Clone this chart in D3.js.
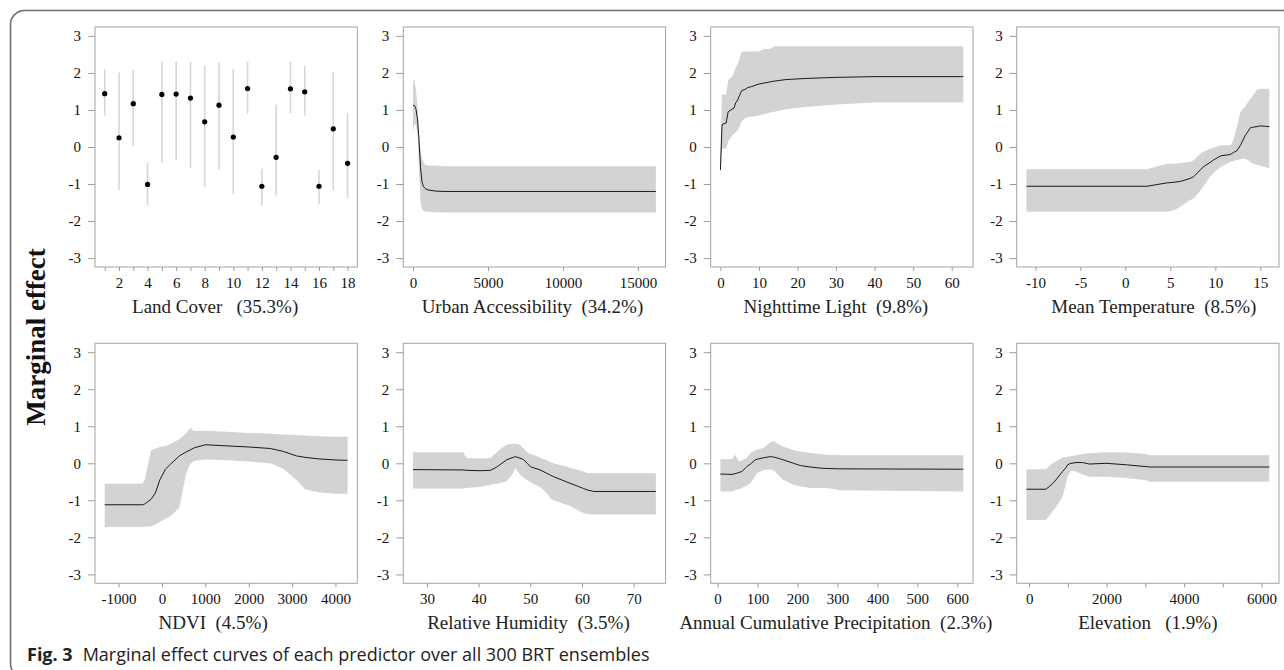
<!DOCTYPE html>
<html>
<head>
<meta charset="utf-8">
<script src="https://cdn.jsdelivr.net/npm/d3@7"></script>
<style>
  body { margin: 0; background: #fff; }
  text { white-space: pre; }
</style>
</head>
<body>
<div id="chart"></div>
<script>
// ---- data ----
var yTicks = [-3, -2, -1, 0, 1, 2, 3];

// Land Cover (categorical, mean + range)
var landCoverClass = [1, 2, 3, 4, 5, 6, 7, 8, 9, 10, 11, 12, 13, 14, 15, 16, 17, 18];
var landCoverMean = [1.44, 0.25, 1.17, -1.01, 1.42, 1.43, 1.32, 0.68, 1.13, 0.27, 1.58, -1.06, -0.28, 1.57, 1.49, -1.06, 0.49, -0.44];
var landCoverLow  = [0.85, -1.16, 0.01, -1.57, -0.44, -0.35, -0.56, -1.08, -0.61, -1.28, 0.9, -1.59, -1.31, 0.9, 0.85, -1.53, -1.17, -1.38];
var landCoverHigh = [2.1, 2.01, 2.08, -0.42, 2.31, 2.31, 2.29, 2.19, 2.28, 2.1, 2.31, -0.59, 1.14, 2.31, 2.19, -0.62, 2.03, 0.91];

// Urban Accessibility
var urbanX    = [0, 100, 200, 300, 400, 500, 600, 700, 800, 1000, 1500, 2000, 16200];
var urbanFit  = [1.13, 1.12, 1.02, 0.75, 0.2, -0.55, -0.95, -1.07, -1.12, -1.16, -1.19, -1.2, -1.2];
var urbanLow  = [0.4, 0.62, 0.6, 0.3, -0.6, -1.45, -1.68, -1.72, -1.74, -1.75, -1.76, -1.77, -1.77];
var urbanHigh = [1.82, 1.75, 1.55, 1.1, 0.3, -0.1, -0.3, -0.42, -0.48, -0.5, -0.5, -0.52, -0.52];

// Nighttime Light
var lightX    = [0, 0.4, 0.6, 1.5, 2, 3, 3.5, 4, 4.5, 5, 5.5, 6.5, 7, 8, 10, 11, 13, 14, 17, 22, 30, 40, 63];
var lightFit  = [-0.62, 0.55, 0.62, 0.65, 0.95, 1.02, 1.05, 1.2, 1.27, 1.4, 1.52, 1.56, 1.6, 1.63, 1.7, 1.72, 1.76, 1.78, 1.82, 1.85, 1.88, 1.9, 1.9];
var lightLow  = [-0.87, -0.05, -0.05, -0.05, 0.15, 0.3, 0.35, 0.4, 0.45, 0.55, 0.7, 0.78, 0.8, 0.82, 0.85, 0.88, 0.93, 0.95, 1.02, 1.08, 1.15, 1.2, 1.2];
var lightHigh = [-0.3, 1.42, 1.42, 1.42, 1.8, 1.9, 2.0, 2.15, 2.25, 2.4, 2.57, 2.58, 2.58, 2.58, 2.58, 2.63, 2.65, 2.72, 2.72, 2.72, 2.72, 2.72, 2.72];

// Mean Temperature
var tempX    = [-11, 2.4, 4.6, 5.5, 6.1, 7.2, 7.6, 8.4, 8.7, 9.4, 9.8, 10.6, 11.7, 12.0, 12.4, 12.8, 13.3, 13.9, 14.1, 14.6, 15, 16];
var tempFit  = [-1.06, -1.06, -0.97, -0.95, -0.93, -0.85, -0.8, -0.6, -0.53, -0.42, -0.35, -0.24, -0.2, -0.15, -0.1, 0.05, 0.3, 0.52, 0.53, 0.55, 0.57, 0.55];
var tempLow  = [-1.75, -1.75, -1.75, -1.7, -1.61, -1.43, -1.4, -1.16, -1.05, -0.8, -0.7, -0.53, -0.4, -0.38, -0.35, -0.33, -0.31, -0.4, -0.44, -0.48, -0.5, -0.58];
var tempHigh = [-0.6, -0.6, -0.45, -0.45, -0.43, -0.4, -0.36, -0.17, -0.12, -0.05, -0.02, 0.05, 0.05, 0.19, 0.55, 0.95, 1.09, 1.3, 1.36, 1.54, 1.57, 1.57];

// NDVI
var ndviX    = [-1320, -450, -400, -250, -150, -50, 80, 200, 400, 550, 650, 750, 1000, 1500, 2000, 2500, 2800, 3100, 3300, 3600, 4000, 4280];
var ndviFit  = [-1.12, -1.12, -1.1, -0.97, -0.8, -0.45, -0.16, -0.02, 0.2, 0.3, 0.36, 0.42, 0.5, 0.47, 0.44, 0.4, 0.32, 0.2, 0.16, 0.12, 0.09, 0.08];
var ndviLow  = [-1.72, -1.72, -1.71, -1.7, -1.65, -1.58, -1.5, -1.42, -1.2, -0.3, -0.02, 0.07, 0.1, 0.08, 0.05, 0.0, -0.15, -0.45, -0.7, -0.78, -0.82, -0.82];
var ndviHigh = [-0.55, -0.55, -0.45, 0.35, 0.4, 0.44, 0.47, 0.52, 0.65, 0.8, 0.95, 0.87, 0.88, 0.85, 0.82, 0.8, 0.78, 0.76, 0.75, 0.73, 0.72, 0.72];

// Relative Humidity
var rhX    = [27.3, 37, 37.7, 40.3, 42.3, 43.5, 44.5, 45.5, 46.5, 47.1, 48, 48.7, 49.4, 50, 50.6, 51.9, 53.2, 53.9, 54.5, 57.7, 60.3, 61, 62.3, 74.3];
var rhFit  = [-0.17, -0.18, -0.19, -0.2, -0.19, -0.1, 0.0, 0.1, 0.15, 0.18, 0.14, 0.1, 0.0, -0.09, -0.12, -0.18, -0.27, -0.32, -0.36, -0.54, -0.68, -0.72, -0.76, -0.76];
var rhLow  = [-0.68, -0.68, -0.67, -0.63, -0.58, -0.55, -0.52, -0.48, -0.3, -0.13, -0.3, -0.4, -0.45, -0.5, -0.55, -0.65, -0.8, -0.95, -1.0, -1.15, -1.35, -1.37, -1.38, -1.38];
var rhHigh = [0.3, 0.3, 0.14, 0.13, 0.14, 0.3, 0.42, 0.5, 0.53, 0.53, 0.5, 0.4, 0.3, 0.25, 0.23, 0.15, 0.08, 0.03, 0.0, -0.12, -0.22, -0.26, -0.27, -0.27];

// Annual Cumulative Precipitation
var precX    = [7, 36, 44, 53, 61, 73, 82, 94, 99, 115, 132, 140, 157, 165, 190, 207, 232, 257, 274, 307, 615];
var precFit  = [-0.29, -0.3, -0.28, -0.25, -0.22, -0.09, -0.02, 0.09, 0.11, 0.15, 0.18, 0.17, 0.12, 0.09, 0.0, -0.06, -0.1, -0.13, -0.14, -0.15, -0.16];
var precLow  = [-0.76, -0.76, -0.72, -0.7, -0.67, -0.6, -0.54, -0.35, -0.27, -0.18, -0.17, -0.19, -0.38, -0.45, -0.58, -0.62, -0.67, -0.67, -0.67, -0.73, -0.76];
var precHigh = [0.11, 0.11, 0.23, 0.05, 0.08, 0.15, 0.28, 0.35, 0.37, 0.41, 0.57, 0.6, 0.49, 0.45, 0.36, 0.32, 0.28, 0.25, 0.23, 0.22, 0.22];

// Elevation
var elevX    = [-70, 432, 518, 604, 690, 864, 950, 993, 1080, 1209, 1382, 1554, 1986, 2504, 3022, 3109, 6200];
var elevFit  = [-0.7, -0.7, -0.63, -0.55, -0.45, -0.22, -0.12, -0.04, 0.0, 0.02, 0.02, -0.02, 0.0, -0.04, -0.09, -0.1, -0.1];
var elevLow  = [-1.53, -1.53, -1.42, -1.3, -1.18, -0.9, -0.54, -0.35, -0.2, -0.22, -0.3, -0.36, -0.36, -0.4, -0.46, -0.5, -0.5];
var elevHigh = [-0.16, -0.16, -0.08, 0.0, 0.05, 0.15, 0.17, 0.18, 0.19, 0.22, 0.25, 0.27, 0.3, 0.29, 0.25, 0.22, 0.22];

// tick values per panel
var landCoverTicks = d3.range(1, 19);
var urbanTicks = [0, 5000, 10000, 15000];
var lightTicks = [0, 10, 20, 30, 40, 50, 60];
var tempTicks = [-10, -5, 0, 5, 10, 15];
var ndviTicks = [-1000, 0, 1000, 2000, 3000, 4000];
var rhTicks = [30, 40, 50, 60, 70];
var precTicks = [0, 100, 200, 300, 400, 500, 600];
var elevTicks = [0, 1000, 2000, 3000, 4000, 5000, 6000];

// ---- layout ----
var svgWidth = 1284;
var svgHeight = 670;
var colLeft = [95, 403.3, 710.7, 1016.7];
var rowTop = [27, 343.3];
var boxW = 262.3;
var boxH = 240;
var serif = "'Liberation Serif', 'Times New Roman', serif";

var panels = [
  { title: "Land Cover   (35.3%)", col: 0, row: 0, tdx: -11, x: landCoverClass, mean: landCoverMean, lo: landCoverLow, hi: landCoverHigh, ticks: landCoverTicks, fmt: d => d % 2 === 0 ? d : "", points: true },
  { title: "Urban Accessibility  (34.2%)", col: 1, row: 0, tdx: -2, x: urbanX, mean: urbanFit, lo: urbanLow, hi: urbanHigh, ticks: urbanTicks },
  { title: "Nighttime Light  (9.8%)", col: 2, row: 0, tdx: -6, x: lightX, mean: lightFit, lo: lightLow, hi: lightHigh, ticks: lightTicks },
  { title: "Mean Temperature  (8.5%)", col: 3, row: 0, tdx: 6, x: tempX, mean: tempFit, lo: tempLow, hi: tempHigh, ticks: tempTicks },
  { title: "NDVI  (4.5%)", col: 0, row: 1, tdx: -13, x: ndviX, mean: ndviFit, lo: ndviLow, hi: ndviHigh, ticks: ndviTicks },
  { title: "Relative Humidity  (3.5%)", col: 1, row: 1, tdx: -6, x: rhX, mean: rhFit, lo: rhLow, hi: rhHigh, ticks: rhTicks },
  { title: "Annual Cumulative Precipitation  (2.3%)", col: 2, row: 1, tdx: -6, x: precX, mean: precFit, lo: precLow, hi: precHigh, ticks: precTicks },
  { title: "Elevation   (1.9%)", col: 3, row: 1, tdx: 0, x: elevX, mean: elevFit, lo: elevLow, hi: elevHigh, ticks: elevTicks, fmt: d => d % 2000 === 0 ? d : "" }
];

var svg = d3.select("#chart")
  .append("svg")
  .attr("width", svgWidth)
  .attr("height", svgHeight);

svg.append("rect")
  .attr("width", svgWidth)
  .attr("height", svgHeight)
  .attr("fill", "#fff");

// outer frame (only top and left visible)
svg.append("rect")
  .attr("x", 10.5)
  .attr("y", 10.5)
  .attr("width", 1400)
  .attr("height", 667)
  .attr("rx", 14)
  .attr("fill", "none")
  .attr("stroke", "#6a6a6a")
  .attr("stroke-width", 1.5);

// R-style 4% padding of the data range
function padded(ext) {
  var d = (ext[1] - ext[0]) * 0.04;
  return [ext[0] - d, ext[1] + d];
}

var yScale = d3.scaleLinear().domain(padded([-3, 3])).range([boxH, 0]);

panels.forEach(function (p) {
  var g = svg.append("g")
    .attr("transform", `translate(${colLeft[p.col]}, ${rowTop[p.row]})`);

  var xScale = d3.scaleLinear()
    .domain(padded(d3.extent(p.x)))
    .range([0, boxW]);

  var rows = p.x.map((v, i) => ({ x: v, m: p.mean[i], lo: p.lo[i], hi: p.hi[i] }));

  if (p.points) {
    g.selectAll(".bar")
      .data(rows)
      .enter()
      .append("line")
      .attr("x1", d => xScale(d.x))
      .attr("x2", d => xScale(d.x))
      .attr("y1", d => yScale(d.lo))
      .attr("y2", d => yScale(d.hi))
      .attr("stroke", "#d6d6d6")
      .attr("stroke-width", 1.6);
    g.selectAll(".pt")
      .data(rows)
      .enter()
      .append("circle")
      .attr("cx", d => xScale(d.x))
      .attr("cy", d => yScale(d.m))
      .attr("r", 2.6)
      .attr("fill", "#000");
  } else {
    var area = d3.area()
      .x(d => xScale(d.x))
      .y0(d => yScale(d.lo))
      .y1(d => yScale(d.hi));
    g.append("path")
      .datum(rows)
      .attr("d", area)
      .attr("fill", "#d3d3d3");
    var line = d3.line()
      .x(d => xScale(d.x))
      .y(d => yScale(d.m));
    g.append("path")
      .datum(rows)
      .attr("d", line)
      .attr("fill", "none")
      .attr("stroke", "#1a1a1a")
      .attr("stroke-width", 1);
  }

  // box
  g.append("rect")
    .attr("x", 0)
    .attr("y", 0)
    .attr("width", boxW)
    .attr("height", boxH)
    .attr("fill", "none")
    .attr("stroke", "#a3a3a3")
    .attr("stroke-width", 1);

  // axes
  var leftAxis = d3.axisLeft(yScale)
    .tickValues(yTicks)
    .tickSize(7)
    .tickPadding(7)
    .tickFormat(d => String(d));
  var yAxis = g.append("g").call(leftAxis);

  var bottomAxis = d3.axisBottom(xScale)
    .tickValues(p.ticks)
    .tickSize(4)
    .tickPadding(6)
    .tickFormat(p.fmt || (d => String(d)));
  var xAxis = g.append("g")
    .attr("transform", `translate(0, ${boxH})`)
    .call(bottomAxis);

  [yAxis, xAxis].forEach(function (ax) {
    ax.attr("font-family", serif).attr("font-size", 15);
    ax.select(".domain").remove();
    ax.selectAll("line").attr("stroke", "#9a9a9a");
    ax.selectAll("text")
      .attr("fill", "#111")
      .attr("font-family", serif)
      .attr("font-size", 15);
  });

  g.append("text")
    .attr("x", boxW / 2 + p.tdx)
    .attr("y", boxH + 46)
    .attr("text-anchor", "middle")
    .attr("font-family", serif)
    .attr("font-size", 19)
    .attr("fill", "#222")
    .text(p.title);
});

// shared y label
svg.append("text")
  .attr("transform", "translate(45, 337) rotate(-90)")
  .attr("text-anchor", "middle")
  .attr("font-family", serif)
  .attr("font-size", 27)
  .attr("font-weight", "bold")
  .attr("fill", "#111")
  .text("Marginal effect");

// caption
var cap = svg.append("text")
  .attr("x", 27)
  .attr("y", 661)
  .attr("font-family", "'Open Sans', 'Noto Sans', sans-serif")
  .attr("font-size", 18)
  .attr("fill", "#222");
cap.append("tspan")
  .attr("font-weight", "bold")
  .text("Fig. 3");
cap.append("tspan")
  .attr("dx", 10)
  .text("Marginal effect curves of each predictor over all 300 BRT ensembles");
</script>
</body>
</html>
